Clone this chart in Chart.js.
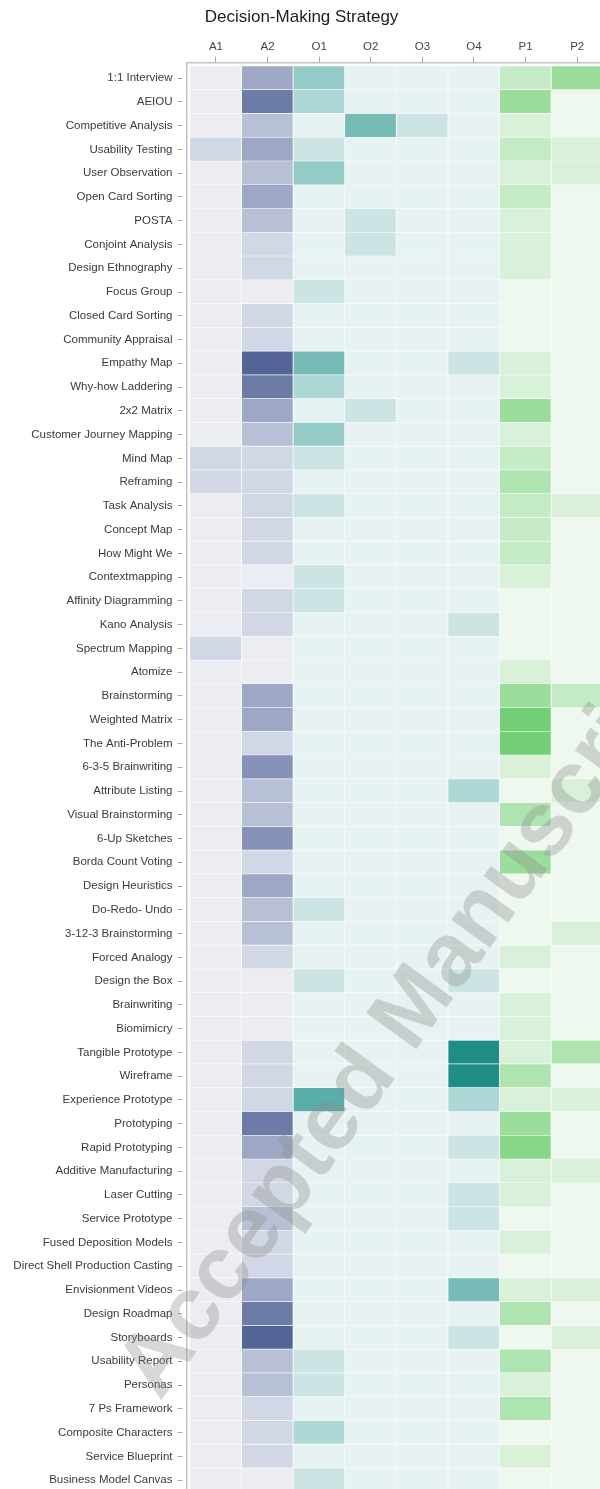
<!DOCTYPE html>
<html>
<head>
<meta charset="utf-8">
<title>Decision-Making Strategy</title>
<script src="https://cdn.jsdelivr.net/npm/chart.js@4/dist/chart.umd.min.js"></script>
<style>
  html, body { margin: 0; padding: 0; background: #fff; overflow: hidden; }
  #wrap { width: 600px; height: 1489px; overflow: hidden; position: relative; }
  canvas { display: block; }
</style>
</head>
<body>
<div id="wrap"><canvas id="heat" width="603" height="1492"></canvas></div>
<script>
// rows (design methods) and columns (decision-making strategies)
const methods = [
    '1:1 Interview', 'AEIOU', 'Competitive Analysis', 'Usability Testing', 'User Observation',
    'Open Card Sorting', 'POSTA', 'Conjoint Analysis', 'Design Ethnography', 'Focus Group',
    'Closed Card Sorting', 'Community Appraisal', 'Empathy Map', 'Why-how Laddering', '2x2 Matrix',
    'Customer Journey Mapping', 'Mind Map', 'Reframing', 'Task Analysis', 'Concept Map',
    'How Might We', 'Contextmapping', 'Affinity Diagramming', 'Kano Analysis', 'Spectrum Mapping',
    'Atomize', 'Brainstorming', 'Weighted Matrix', 'The Anti-Problem', '6-3-5 Brainwriting',
    'Attribute Listing', 'Visual Brainstorming', '6-Up Sketches', 'Borda Count Voting', 'Design Heuristics',
    'Do-Redo- Undo', '3-12-3 Brainstorming', 'Forced Analogy', 'Design the Box', 'Brainwriting',
    'Biomimicry', 'Tangible Prototype', 'Wireframe', 'Experience Prototype', 'Prototyping',
    'Rapid Prototyping', 'Additive Manufacturing', 'Laser Cutting', 'Service Prototype', 'Fused Deposition Models',
    'Direct Shell Production Casting', 'Envisionment Videos', 'Design Roadmap', 'Storyboards', 'Usability Report',
    'Personas', '7 Ps Framework', 'Composite Characters', 'Service Blueprint', 'Business Model Canvas'
];
const strategies = ['A1', 'A2', 'O1', 'O2', 'O3', 'O4', 'P1', 'P2'];

// intensity per method, one array per strategy column (0 = none)
const a1 = [0,0,0,1,0,0,0,0,0,0, 0,0,0,0,0,0,1,1,0,0, 0,0,0,0,1,0,0,0,0,0, 0,0,0,0,0,0,0,0,0,0, 0,0,0,0,0,0,0,0,0,0, 0,0,0,0,0,0,0,0,0,0];
const a2 = [3,5,2,3,2,3,2,1,1,0, 1,1,6,5,3,2,1,1,1,1, 1,0,1,1,0,0,3,3,1,4, 2,2,4,1,3,2,2,1,0,0, 0,1,1,1,5,3,1,1,2,1, 1,3,5,6,2,2,1,1,1,0];
const o1 = [3,2,0,1,3,0,0,0,0,1, 0,0,4,2,0,3,1,0,1,0, 0,1,1,0,0,0,0,0,0,0, 0,0,0,0,0,1,0,0,1,0, 0,0,0,5,0,0,0,0,0,0, 0,0,0,0,1,1,0,2,0,1];
const o2 = [0,0,4,0,0,0,1,1,0,0, 0,0,0,0,1,0,0,0,0,0, 0,0,0,0,0,0,0,0,0,0, 0,0,0,0,0,0,0,0,0,0, 0,0,0,0,0,0,0,0,0,0, 0,0,0,0,0,0,0,0,0,0];
const o3 = [0,0,1,0,0,0,0,0,0,0, 0,0,0,0,0,0,0,0,0,0, 0,0,0,0,0,0,0,0,0,0, 0,0,0,0,0,0,0,0,0,0, 0,0,0,0,0,0,0,0,0,0, 0,0,0,0,0,0,0,0,0,0];
const o4 = [0,0,0,0,0,0,0,0,0,0, 0,0,1,0,0,0,0,0,0,0, 0,0,0,1,0,0,0,0,0,0, 2,0,0,0,0,0,0,0,1,0, 0,6,6,2,0,1,0,1,1,0, 0,4,0,1,0,0,0,0,0,0];
const p1 = [2,4,1,2,1,2,1,1,1,0, 0,0,1,1,4,1,2,3,2,2, 2,1,0,0,0,1,4,6,6,1, 0,3,0,4,0,0,0,1,0,1, 1,1,3,1,4,5,1,1,0,1, 0,1,3,0,3,1,3,0,1,0];
const p2 = [4,0,0,1,1,0,0,0,0,0, 0,0,0,0,0,0,0,0,1,0, 0,0,0,0,0,0,2,0,0,0, 1,0,0,0,0,0,1,0,0,0, 0,3,0,1,0,0,1,0,0,0, 0,1,0,1,0,0,0,0,0,0];

const columns = [a1, a2, o1, o2, o3, o4, p1, p2];

// colour ramps: A = blue-grey, O = teal, P = green
const rampA = ['#ecedf3', '#d1d7e4', '#b8c0d6', '#9ea8c6', '#8792b8', '#6d7ca7', '#536597'];
const rampO = ['#e7f3f2', '#cce4e3', '#aed8d5', '#94cbc6', '#77bbb6', '#5aaeaa', '#1f8d87'];
const rampP = ['#eef8ee', '#d9f1d9', '#c4ebc5', '#aee4b0', '#9bde9c', '#88d788', '#72cf75'];
const ramps = [rampA, rampA, rampO, rampO, rampO, rampO, rampP, rampP];

const FONT = '"Liberation Sans", Arial, Helvetica, sans-serif';

const watermark = {
    id: 'watermark',
    afterDraw(chart) {
        const ctx = chart.ctx;
        ctx.save();
        ctx.translate(160, 1402);
        ctx.rotate(-54 * Math.PI / 180);
        ctx.font = 'bold 90px ' + FONT;
        ctx.fillStyle = 'rgba(140, 140, 140, 0.35)';
        ctx.textBaseline = 'alphabetic';
        ctx.fillText('Accepted Manuscript', 0, 0);
        ctx.restore();
    }
};

const datasets = columns.map((vals, c) => ({
    label: strategies[c],
    data: vals.map((v, r) => ({ y: r + 0.5, x: [c, c + 1] })),
    backgroundColor: vals.map(v => ramps[c][v]),
    borderColor: '#f8fafa',
    borderWidth: { top: 0, left: 0, right: 1, bottom: 1 },
    borderSkipped: false,
    barPercentage: 1,
    categoryPercentage: 1,
    grouped: false
}));

new Chart(document.getElementById('heat'), {
    type: 'bar',
    data: { datasets },
    options: {
        indexAxis: 'y',
        responsive: false,
        animation: false,
        layout: { padding: 0 },
        plugins: {
            legend: { display: false },
            tooltip: { enabled: false },
            title: {
                display: true,
                text: 'Decision-Making Strategy',
                color: '#1e1e1e',
                font: { family: FONT, size: 17, weight: 'normal' },
                padding: { top: 7, bottom: 5 }
            }
        },
        scales: {
            x: {
                type: 'linear',
                position: 'top',
                min: -0.07,
                max: 8,
                afterBuildTicks: axis => { axis.ticks = strategies.map((s, i) => ({ value: i + 0.5 })); },
                afterFit: axis => { axis.height = 30.3; axis.paddingLeft = 0; axis.paddingRight = 0; },
                ticks: {
                    autoSkip: false,
                    maxRotation: 0,
                    padding: 3,
                    color: '#444',
                    font: { family: FONT, size: 11.5 },
                    callback: (v, i) => strategies[i]
                },
                grid: { drawOnChartArea: false, drawTicks: true, tickLength: 6, color: '#a8a8a8' },
                border: { display: true, color: '#c4c4c4', width: 1.5 }
            },
            y: {
                type: 'linear',
                reverse: true,
                offset: false,
                min: -0.15,
                max: 60,
                afterBuildTicks: axis => { axis.ticks = methods.map((m, i) => ({ value: i + 0.5 })); },
                afterFit: axis => { axis.width = 186.5; axis.paddingTop = 0; axis.paddingBottom = 0; },
                ticks: {
                    autoSkip: false,
                    padding: 5,
                    color: '#3a3a3a',
                    font: { family: FONT, size: 11.5 },
                    callback: (v, i) => methods[i]
                },
                grid: {
                    offset: false,
                    drawOnChartArea: false,
                    drawTicks: true,
                    tickLength: 9,
                    color: '#a8a8a8',
                    tickBorderDash: [5, 20]
                },
                border: { display: true, color: '#c4c4c4', width: 1.5 }
            }
        }
    },
    plugins: [watermark]
});
</script>
</body>
</html>
